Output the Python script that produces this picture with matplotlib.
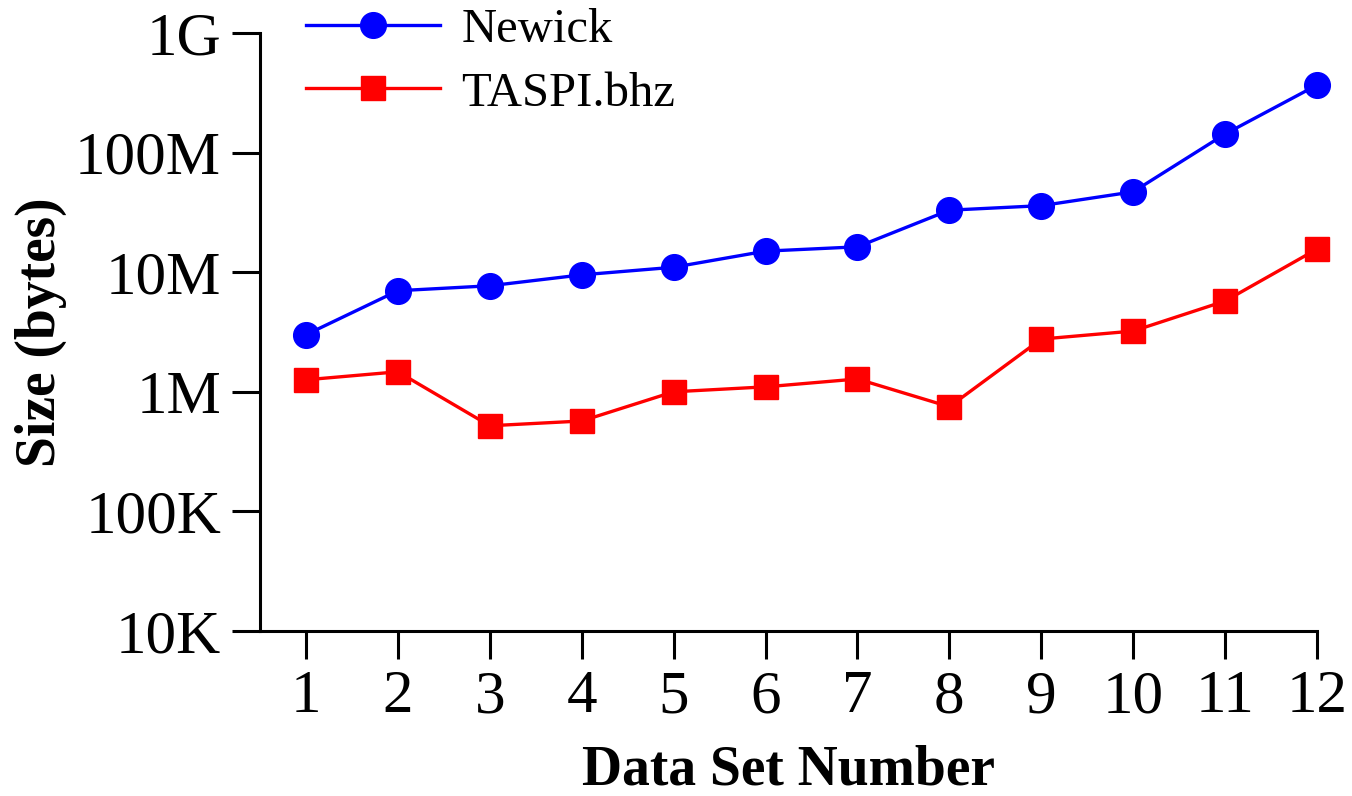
import matplotlib
matplotlib.use("Agg")
import matplotlib.pyplot as plt
from matplotlib.ticker import LogLocator, FixedLocator, NullFormatter

plt.rcParams['font.family'] = ['Liberation Serif', 'DejaVu Serif']

data_sets = list(range(1, 13))
newick = [3.0e6, 7.0e6, 7.7e6, 9.5e6, 11e6, 15e6, 16.3e6, 33e6, 36e6, 47e6, 143e6, 367e6]
taspi = [1.26e6, 1.47e6, 0.52e6, 0.57e6, 1.0e6, 1.1e6, 1.28e6, 0.75e6, 2.76e6, 3.22e6, 5.74e6, 15.6e6]

y_ticks = [1e4, 1e5, 1e6, 1e7, 1e8, 1e9]
y_labels = ['10K', '100K', '1M', '10M', '100M', '1G']

fig = plt.figure(figsize=(13.52, 7.96), dpi=100)
ax = fig.add_axes([260 / 1352, 1 - 631 / 796, (1317 - 260) / 1352, (631 - 33) / 796])

ax.plot(data_sets, newick, color='blue', lw=2.4, marker='o', ms=18.5,
        label='Newick', clip_on=False)
ax.plot(data_sets, taspi, color='red', lw=2.4, marker='s', ms=17,
        label='TASPI.bhz', clip_on=False)

ax.set_yscale('log')
ax.set_ylim(1e4, 1e9)
ax.set_xlim(0.5, 12)
ax.yaxis.set_major_locator(FixedLocator(y_ticks))
ax.set_yticklabels(y_labels)
ax.yaxis.set_minor_locator(LogLocator(base=10, subs=range(2, 10)))
ax.yaxis.set_minor_formatter(NullFormatter())
ax.set_xticks(data_sets)

for s in ['top', 'right']:
    ax.spines[s].set_visible(False)
for s in ['left', 'bottom']:
    ax.spines[s].set_linewidth(2.2)

ax.tick_params(axis='both', which='major', direction='out', length=20, width=2.2,
               labelsize=44, pad=8)
ax.tick_params(axis='y', which='minor', direction='out', length=9, width=2.2)

ax.set_xlabel('Data Set Number', fontsize=40, fontweight='bold', labelpad=14)
ax.set_ylabel('Size (bytes)', fontsize=40, fontweight='bold', labelpad=6)

ax.legend(loc='upper left', bbox_to_anchor=(306 / 1352, 1 - 8 / 796),
          bbox_transform=fig.transFigure, frameon=False, fontsize=35,
          borderpad=0, borderaxespad=0, handlelength=2.75, handletextpad=0.45,
          labelspacing=0.4)

fig.savefig('out.png', dpi=100)
